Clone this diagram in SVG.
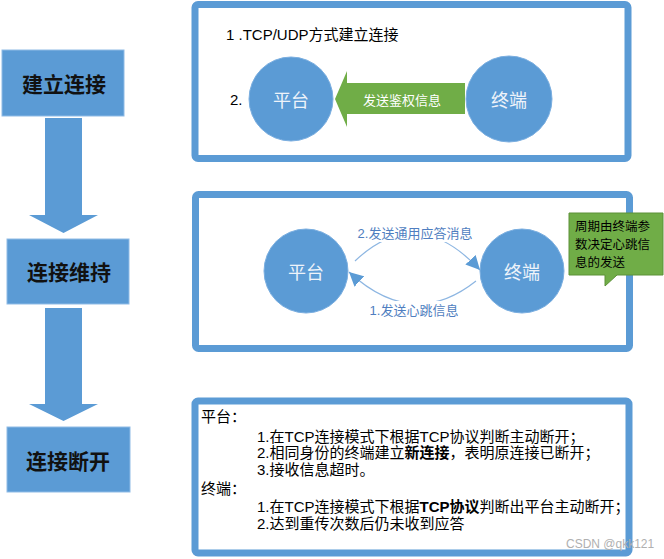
<svg xmlns="http://www.w3.org/2000/svg" width="664" height="559" viewBox="0 0 664 559">
<style>
.step{fill:#5b9bd5;stroke:#8fbbe6;stroke-width:1}
.steptxt{font-family:"Noto Sans CJK SC",sans-serif;font-size:21px;font-weight:700;fill:#111;text-anchor:middle;dominant-baseline:central}
.frame{fill:#fff;stroke:#5b9bd5;stroke-width:7}
.circ{fill:#5b9bd5;stroke:#7aaee0;stroke-width:1}
.ctxt{font-family:"Noto Sans CJK SC",sans-serif;font-size:18px;fill:#eef3fa;text-anchor:middle;dominant-baseline:central}
.t{font-family:"Liberation Sans","Noto Sans CJK SC",sans-serif;font-size:15px;fill:#000}
.lbl{font-family:"Liberation Sans","Noto Sans CJK SC",sans-serif;font-size:13px;fill:#4f7ec0;text-anchor:middle;dominant-baseline:central}
.arc{fill:none;stroke:#8db6e2;stroke-width:1.2}
.bigarrow{fill:#5b9bd5}
.callt{font-family:"Noto Sans CJK SC",sans-serif;font-size:12.5px;fill:#000}
</style>
<defs>
<marker id="ah" markerUnits="userSpaceOnUse" markerWidth="16" markerHeight="14" refX="14" refY="7" orient="auto">
<path d="M0,0 L14,7 L0,14 Z" fill="#5b9bd5"/>
</marker>
</defs>

<g id="connectors">
<polygon class="bigarrow" points="45,118 82,118 82,215 98,215 63.5,233 29,215 45,215"/>
<polygon class="bigarrow" points="45,308 82,308 82,404 98,404 63.5,421 29,404 45,404"/>
</g>

<g id="step-establish">
<rect class="step" x="2" y="50" width="122" height="66"/>
<text class="steptxt" x="64" y="83">建立连接</text>
</g>
<g id="step-maintain">
<rect class="step" x="7" y="239" width="122" height="65"/>
<text class="steptxt" x="69" y="271">连接维持</text>
</g>
<g id="step-disconnect">
<rect class="step" x="7" y="427" width="123" height="65"/>
<text class="steptxt" x="68" y="460">连接断开</text>
</g>

<g id="panel-establish">
<rect class="frame" x="195" y="4.5" width="433" height="154" rx="3"/>
<text class="t" x="226" y="40">1 .TCP/UDP方式建立连接</text>
<text class="t" x="230" y="105" font-size="14">2.</text>
<polygon fill="#70ad47" points="335,99 347,71 347,83 465,83 465,114 347,114 347,127"/>
<text x="402" y="99" font-family="'Noto Sans CJK SC',sans-serif" font-size="13" fill="#fff" text-anchor="middle" dominant-baseline="central">发送鉴权信息</text>
<g id="node-platform-1">
<circle class="circ" cx="291" cy="99" r="42"/>
<text class="ctxt" x="291" y="99">平台</text>
</g>
<g id="node-terminal-1">
<circle class="circ" cx="509" cy="99" r="43"/>
<text class="ctxt" x="509" y="99">终端</text>
</g>
</g>

<g id="panel-maintain">
<rect class="frame" x="195.5" y="194.5" width="434" height="154" rx="3"/>
<g id="arcs">
<path class="arc" d="M355,261 Q417,202 480,270" marker-end="url(#ah)"/>
<path class="arc" d="M476,281 Q413,331 349,272" marker-end="url(#ah)"/>
</g>
<rect x="356" y="224" width="118" height="18" fill="#fff"/>
<text class="lbl" x="415" y="233">2.发送通用应答消息</text>
<rect x="368" y="301" width="92" height="18" fill="#fff"/>
<text class="lbl" x="414" y="310">1.发送心跳信息</text>
<g id="node-platform-2">
<circle class="circ" cx="306" cy="271" r="42"/>
<text class="ctxt" x="306" y="271">平台</text>
</g>
<g id="node-terminal-2">
<circle class="circ" cx="522" cy="271" r="42"/>
<text class="ctxt" x="522" y="271">终端</text>
</g>
<g id="callout">
<polygon fill="#70ad47" stroke="#5d9138" stroke-width="1" points="569,213 663,213 663,275 617,275 605,286 605,275 569,275"/>
<text class="callt" x="575" y="231">周期由终端参</text>
<text class="callt" x="575" y="249">数决定心跳信</text>
<text class="callt" x="575" y="267">息的发送</text>
</g>
</g>

<g id="panel-disconnect">
<rect class="frame" x="195" y="401" width="434" height="152" rx="3" stroke-width="8"/>
<text class="t" x="201" y="422">平台：</text>
<text class="t" x="257" y="442">1.在TCP连接模式下根据TCP协议判断主动断开；</text>
<text class="t" x="257" y="458">2.相同身份的终端建立<tspan font-weight="700">新连接</tspan>，表明原连接已断开；</text>
<text class="t" x="257" y="475">3.接收信息超时。</text>
<text class="t" x="201" y="494">终端：</text>
<text class="t" x="257" y="512">1.在TCP连接模式下根据<tspan font-weight="700">TCP协议</tspan>判断出平台主动断开；</text>
<text class="t" x="257" y="529">2.达到重传次数后仍未收到应答</text>
<text x="566" y="548" font-family="'Liberation Sans',sans-serif" font-size="12" fill="#b0b0b0">CSDN @qkk121</text>
</g>
</svg>
